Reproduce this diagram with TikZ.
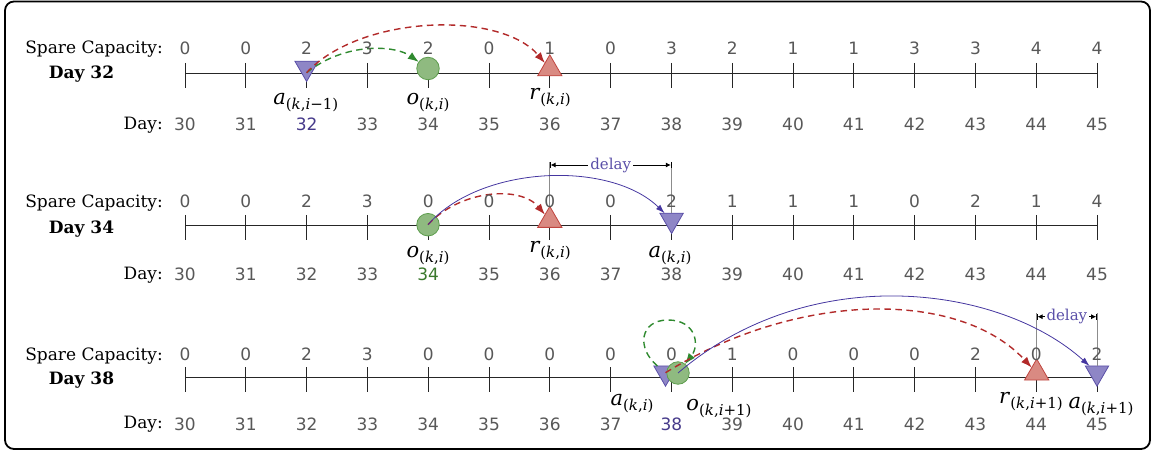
\documentclass[tikz,border=0pt]{standalone}
\usepackage{fontspec}
\setmainfont{DejaVu Serif}
\newfontfamily\digf{DejaVu Sans}
\usetikzlibrary{shapes.geometric,arrows.meta}
\definecolor{purpfill}{HTML}{8E86C6}
\definecolor{purpdraw}{HTML}{5B50A8}
\definecolor{greenfill}{HTML}{8FBA80}
\definecolor{greendraw}{HTML}{5E9E4E}
\definecolor{redfill}{HTML}{D98A82}
\definecolor{reddraw}{HTML}{C0453F}
\definecolor{redarr}{HTML}{B22A2A}
\definecolor{greenarr}{HTML}{2F8A2F}
\definecolor{bluearr}{HTML}{4536A0}
\definecolor{numgray}{HTML}{585858}
\definecolor{daypurple}{HTML}{463A8A}
\definecolor{daygreen}{HTML}{3A782C}
\definecolor{delaycol}{HTML}{5A4FA8}
\newcommand\lbl[2]{\textit{#1}\raisebox{-5pt}{\fontsize{15}{17}\selectfont #2}}
\newcommand\myaxis[1]{%
  \draw[axisline] (185,#1) -- (1097,#1);
  \foreach \i in {0,...,15} \draw[tickline] ({185+60.8*\i},#1-10) -- ({185+60.8*\i},#1+15);}
\newcommand\sparerow[3]{% baseline, list, name
  \foreach \v [count=\i from 0] in {#2} {\node[num] (#3-\i) at ({185+60.8*\i},#1) {\v};}}
\newcommand\dayrow[4]{% baseline, highlight, colour, name
  \foreach \i in {0,...,15}{%
    \pgfmathtruncatemacro\mydd{30+\i}%
    \ifnum\mydd=#2\relax\def\mycol{#3}\else\def\mycol{numgray}\fi
    \node[num, text=\mycol] (#4-\i) at ({185+60.8*\i},#1) {\mydd};}}
\tikzset{
  txt/.style={inner sep=0pt, anchor=base east, font=\fontsize{17}{20}\selectfont},
  boldtxt/.style={inner sep=0pt, anchor=base, font=\fontsize{17}{20}\selectfont\bfseries},
  num/.style={inner sep=0pt, anchor=base, font=\digf\fontsize{17}{20}\selectfont, text=numgray},
  lab/.style={inner sep=0pt, anchor=base, font=\fontsize{21}{24}\selectfont},
  axisline/.style={draw=black!85, line width=0.9pt},
  tickline/.style={draw=black!85, line width=0.9pt},
  tdown/.style={regular polygon, regular polygon sides=3, shape border rotate=180, minimum size=27pt, inner sep=0pt, outer sep=0pt, fill=purpfill, draw=purpdraw, line width=0.8pt},
  tup/.style={regular polygon, regular polygon sides=3, minimum size=28pt, inner sep=0pt, outer sep=0pt, fill=redfill, draw=reddraw, line width=0.8pt},
  gcirc/.style={circle, minimum size=22.5pt, inner sep=0pt, outer sep=0pt, fill=greenfill, draw=greendraw, line width=0.8pt},
  redarrow/.style={draw=redarr, line width=1.4pt, dash pattern=on 6.5pt off 4.5pt, -{Latex[length=11pt,width=8pt]}},
  greenarrow/.style={draw=greenarr, line width=1.4pt, dash pattern=on 6.5pt off 4.5pt, -{Latex[length=11pt,width=8pt]}},
  bluearrow/.style={draw=bluearr, line width=0.8pt, -{Latex[length=9pt,width=6pt]}},
  dimline/.style={draw=black!45, line width=0.7pt},
  dimarrow/.style={draw=black, line width=0.8pt, |<->|, >={Latex[length=5pt,width=5pt]}},
  delaytext/.style={fill=white, inner sep=2pt, text=delaycol, font=\fontsize{15}{17}\selectfont},
}
\begin{document}
\begin{tikzpicture}[x=1pt,y=-1pt]
\useasboundingbox (0,0) rectangle (1153,454);
\draw[line width=1.8pt, rounded corners=9pt] (5,1.5) rectangle (1150,449);

% ---------- Row 1 : Day 32
\node[txt] (sc1) at (163,53.5) {Spare Capacity:};
\node[boldtxt] (d1) at (81.5,79) {Day 32};
\node[txt] (dl1) at (163,129.3) {Day:};
\myaxis{73}
\node[tdown] (a1) at (306.6,68) {};
\node[gcirc] (o1) at (428,68.5) {};
\node[tup] (r1) at (549.8,68.8) {};
\coordinate (s1) at (306.6,72.7);
\draw[greenarrow] (s1) .. controls (345,42) and (395,45) .. (o1);
\draw[redarrow] (s1) .. controls (360,15) and (500,10) .. (r1);
\sparerow{55}{0,0,2,3,2,0,1,0,3,2,1,1,3,3,4,4}{sa}
\dayrow{130.7}{32}{daypurple}{da}
\node[lab] (la1) at (305.8,105) {\lbl{a}{(\textit{k},\textit{i}−1)}};
\node[lab] (lo1) at (428,105) {\lbl{o}{(\textit{k},\textit{i})}};
\node[lab] (lr1) at (550,100) {\lbl{r}{(\textit{k},\textit{i})}};

% ---------- Row 2 : Day 34
\node[txt] (sc2) at (163,207.3) {Spare Capacity:};
\node[boldtxt] (d2) at (81.5,233.3) {Day 34};
\node[txt] (dl2) at (163,279.3) {Day:};
\myaxis{225}
\node[gcirc] (o2) at (428,224.7) {};
\node[tup] (r2) at (549.8,220.4) {};
\node[tdown] (a2) at (671.6,220) {};
\draw[dimline] (r2.north) -- (549.8,162);
\draw[dimline] (a2.north) -- (671.6,162);
\draw[dimarrow] (549.8,165) -- node[delaytext] (dt2) {delay} (671.6,165);
\draw[redarrow] (o2.center) .. controls (460,190) and (520,185) .. (r2);
\draw[bluearrow] (o2.center) .. controls (480,165) and (610,160) .. (a2);
\sparerow{207.3}{0,0,2,3,0,0,0,0,2,1,1,1,0,2,1,4}{sb}
\dayrow{280}{34}{daygreen}{db}
\node[lab] (lo2) at (428,258) {\lbl{o}{(\textit{k},\textit{i})}};
\node[lab] (lr2) at (550,253) {\lbl{r}{(\textit{k},\textit{i})}};
\node[lab] (la2) at (670,258) {\lbl{a}{(\textit{k},\textit{i})}};

% ---------- Row 3 : Day 38
\node[txt] (sc3) at (163,360) {Spare Capacity:};
\node[boldtxt] (d3) at (81.5,384) {Day 38};
\node[txt] (dl3) at (163,428.3) {Day:};
\myaxis{377}
\node[tdown] (a3) at (665.5,372.7) {};
\node[gcirc] (o3) at (678,373) {};
\node[tup] (r3) at (1036.7,373) {};
\node[tdown] (a4) at (1097,372.7) {};
\draw[dimline] (r3.north) -- (1036.7,313);
\draw[dimline] (a4.north) -- (1097,313);
\draw[dimarrow] (1036.7,316.7) -- node[delaytext] (dt3) {delay} (1097,316.7);
\draw[greenarrow] (a3) .. controls (636,348) and (640,320) .. (668,320) .. controls (696,320) and (700,345) .. (o3);
\draw[redarrow] (a3.center) .. controls (800,290) and (960,290) .. (r3);
\draw[bluearrow] (o3.center) .. controls (810,260) and (1000,285) .. (a4);
\sparerow{360}{0,0,2,3,0,0,0,0,0,1,0,0,0,2,0,2}{sc}
\dayrow{430}{38}{daypurple}{dc}
\node[lab] (la3) at (632,405) {\lbl{a}{(\textit{k},\textit{i})}};
\node[lab] (lo3) at (719,410) {\lbl{o}{(\textit{k},\textit{i}+1)}};
\node[lab] (lr3) at (1031,403) {\lbl{r}{(\textit{k},\textit{i}+1)}};
\node[lab] (la4) at (1101,408) {\lbl{a}{(\textit{k},\textit{i}+1)}};
\end{tikzpicture}
\end{document}
